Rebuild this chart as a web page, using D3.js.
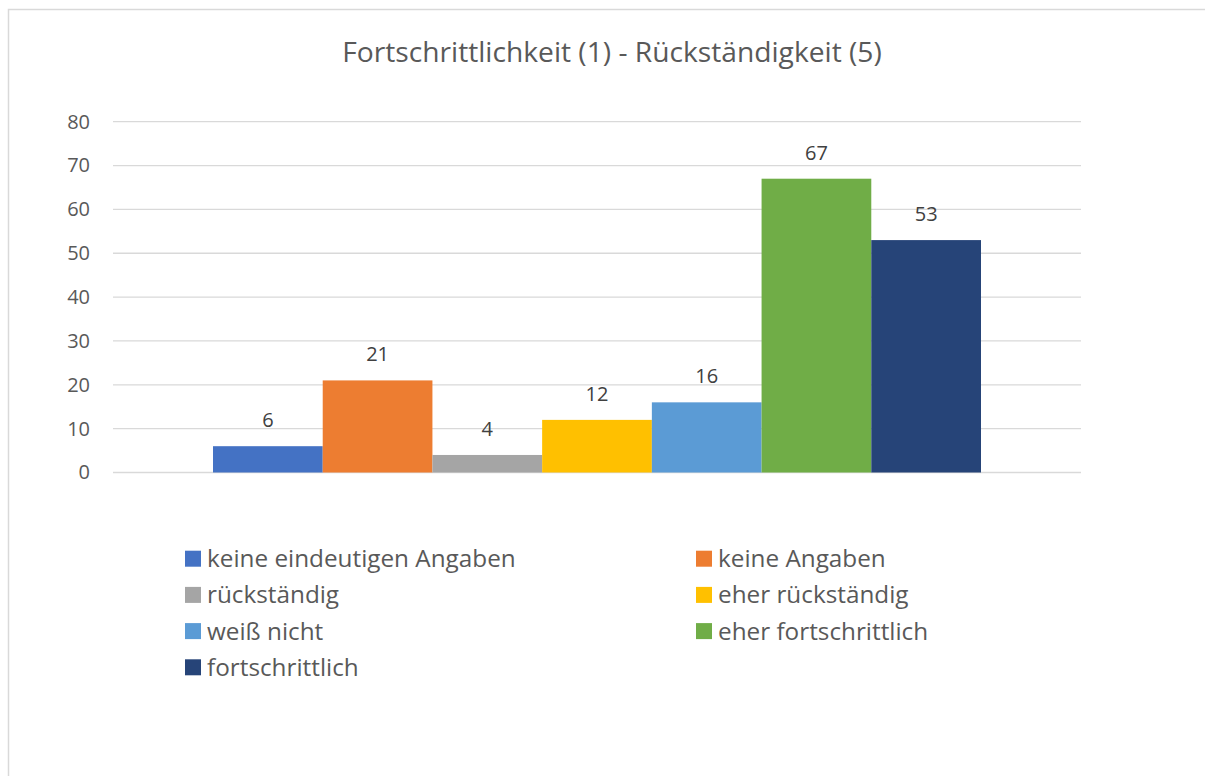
<!DOCTYPE html>
<html>
<head>
<meta charset="utf-8">
<script src="https://cdn.jsdelivr.net/npm/d3@7"></script>
<style>
  body { margin: 0; background: #fff; }
  svg text { font-family: "Open Sans", "Noto Sans", sans-serif; }
</style>
</head>
<body>
<svg id="chart" width="1205" height="776"></svg>
<script>
// data
var categories = ["keine eindeutigen Angaben", "keine Angaben", "rückständig", "eher rückständig",
                  "weiß nicht", "eher fortschrittlich", "fortschrittlich"];
var values = [6, 21, 4, 12, 16, 67, 53];
var colors = ["#4472C4", "#ED7D31", "#A5A5A5", "#FFC000", "#5B9BD5", "#70AD47", "#264478"];
var yTicks = [0, 10, 20, 30, 40, 50, 60, 70, 80];
var title = "Fortschrittlichkeit (1) - Rückständigkeit (5)";

var svg = d3.select("#chart");

// chart frame
svg.append("rect")
  .attr("x", 8.5).attr("y", 9.5)
  .attr("width", 1205).attr("height", 776)
  .attr("fill", "#fff").attr("stroke", "#d9d9d9").attr("stroke-width", 1.5);

var plotLeft = 113, plotRight = 1081, plotTop = 121.7, plotBottom = 472.5;

var y = d3.scaleLinear().domain([0, 80]).range([plotBottom, plotTop]);

// single category group, bars side by side
var x = d3.scaleBand().domain(categories).range([plotLeft + 100, plotRight - 100]).padding(0);

// gridlines
svg.append("g")
  .selectAll("line")
  .data(yTicks).enter()
  .append("line")
  .attr("x1", plotLeft).attr("x2", plotRight)
  .attr("y1", function (d) { return y(d); })
  .attr("y2", function (d) { return y(d); })
  .attr("stroke", "#d9d9d9").attr("stroke-width", 1.3);

// y axis labels
var yAxis = d3.axisLeft(y).tickValues(yTicks).tickSize(0).tickPadding(0);
var gy = svg.append("g").attr("transform", "translate(90,0)").call(yAxis);
gy.select(".domain").remove();
gy.selectAll("text")
  .attr("fill", "#595959")
  .style("font-family", "'Open Sans', sans-serif")
  .style("font-size", "20px");

// bars
svg.append("g")
  .selectAll("rect")
  .data(values).enter()
  .append("rect")
  .attr("x", function (d, i) { return x(categories[i]); })
  .attr("y", function (d) { return y(d); })
  .attr("width", x.bandwidth())
  .attr("height", function (d) { return plotBottom - y(d); })
  .attr("fill", function (d, i) { return colors[i]; });

// value labels
svg.append("g")
  .selectAll("text")
  .data(values).enter()
  .append("text")
  .attr("x", function (d, i) { return x(categories[i]) + x.bandwidth() / 2; })
  .attr("y", function (d) { return y(d) - 19; })
  .attr("text-anchor", "middle")
  .attr("fill", "#404040")
  .style("font-size", "20px")
  .text(function (d) { return d; });

// title
svg.append("text")
  .attr("x", 612).attr("y", 62)
  .attr("text-anchor", "middle")
  .attr("fill", "#595959")
  .style("font-size", "28.2px")
  .text(title);

// legend, two columns
var legend = svg.append("g")
  .selectAll("g")
  .data(categories).enter()
  .append("g")
  .attr("transform", function (d, i) {
    var col = i % 2, row = Math.floor(i / 2);
    return "translate(" + (col ? 696 : 185) + "," + (558.7 + row * 36.2) + ")";
  });

legend.append("rect")
  .attr("x", 0).attr("y", -8)
  .attr("width", 16).attr("height", 16)
  .attr("fill", function (d, i) { return colors[i]; });

legend.append("text")
  .attr("x", 22).attr("y", 0)
  .attr("dy", "0.35em")
  .attr("fill", "#595959")
  .style("font-size", "24.3px")
  .text(function (d) { return d; });
</script>
</body>
</html>
